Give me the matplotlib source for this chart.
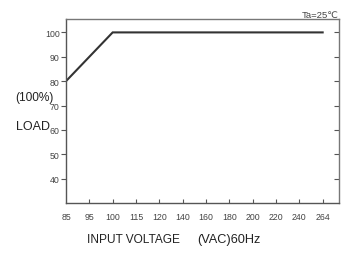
import numpy as np
import matplotlib.pyplot as plt

# derating curve data (categorical x axis, evenly spaced)
volt_labels = ['85', '95', '100', '115', '120', '140', '160', '180', '200', '220', '240', '264']
curve_idx = [0, 2, 11]          # positions on the category axis: 85, 100, 264
curve_load = [80, 100, 100]
y_ticks = [40, 50, 60, 70, 80, 90, 100]

narrow = ['Liberation Sans Narrow', 'Liberation Sans', 'DejaVu Sans']
fig = plt.figure(figsize=(3.53, 2.55), dpi=100)
ax = fig.add_axes([66/353, 1-204/255, (339-66)/353, (204-20)/255])

ax.plot(curve_idx, curve_load, color='#333333', lw=1.5, solid_joinstyle='miter')
ax.set_xlim(0, 11.7)
ax.set_ylim(30, 105.5)

ax.set_xticks(range(1, len(volt_labels)))
ax.set_xticklabels([])
for i, lab in enumerate(volt_labels):
    ax.text(i, 26.3, lab, ha='center', va='top', fontsize=6.3, color='#444444',
            family=narrow, transform=ax.transData, clip_on=False)
ax.set_yticks(y_ticks)
ax.set_yticklabels([str(v) for v in y_ticks], fontsize=6.3, color='#444444', family=narrow)

ax.tick_params(axis='x', direction='in', length=3, width=0.8, color='#555555')
ax.tick_params(axis='y', direction='out', length=3.5, width=0.8, color='#555555', pad=1)
ax.tick_params(axis='y', which='both', right=True, labelright=False)
for t in ax.yaxis.get_ticklines()[1::2]:
    t.set_marker(0)  # right side ticks pointing inward
for s in ax.spines.values():
    s.set_color('#777777')
    s.set_linewidth(1.0)
ax.spines['left'].set_color('#555555')
ax.spines['bottom'].set_color('#555555')

fig.text(15/353, 1-98/255, '(100%)', fontsize=8.6, family='Liberation Sans', va='center', color='#222222')
fig.text(16/353, 1-127/255, 'LOAD', fontsize=9, family='Liberation Sans', va='center', color='#222222')
fig.text(87/353, 1-240/255, 'INPUT VOLTAGE', fontsize=8.6, family='Liberation Sans', va='center', color='#222222')
fig.text(197/353, 1-240/255, '(VAC)60Hz', fontsize=9.2, family='Liberation Sans', va='center', color='#222222')
fig.text(339/353, 1-15/255, 'Ta=25\u2103', fontsize=6.8, family=narrow, ha='right', va='center', color='#444444')

fig.savefig('out.png', dpi=100)
